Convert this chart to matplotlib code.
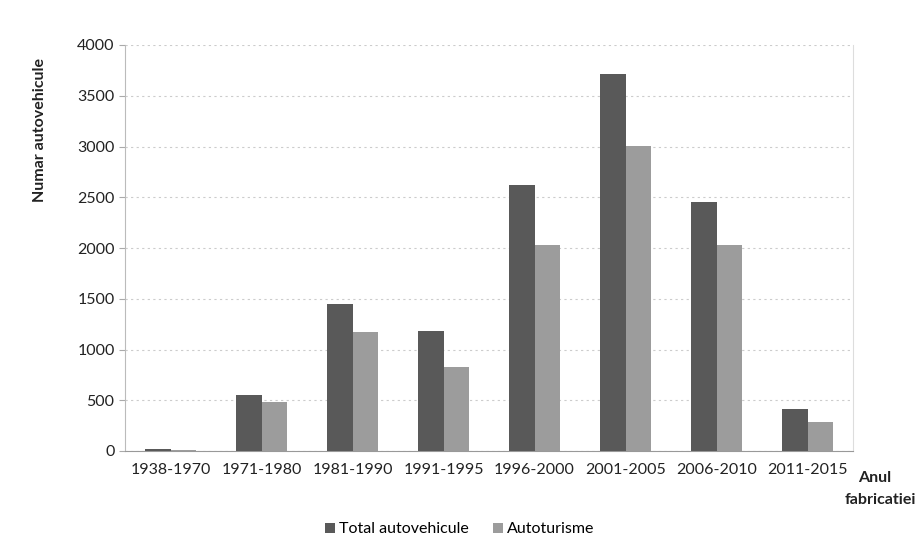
import matplotlib
matplotlib.use("Agg")
import matplotlib.pyplot as plt
import numpy as np

plt.rcParams["font.family"] = ["Lato", "DejaVu Sans"]

categories = ["1938-1970", "1971-1980", "1981-1990", "1991-1995",
              "1996-2000", "2001-2005", "2006-2010", "2011-2015"]
total_autovehicule = [20, 550, 1450, 1185, 2620, 3710, 2450, 410]
autoturisme = [10, 485, 1175, 830, 2030, 3005, 2030, 285]
yticks = [0, 500, 1000, 1500, 2000, 2500, 3000, 3500, 4000]

fig = plt.figure(figsize=(9.17, 5.51), dpi=100)
ax = fig.add_axes([125 / 917, 1 - 451 / 551, 728 / 917, 406 / 551])

x = np.arange(len(categories))
w = 0.285
ax.bar(x - w / 2, total_autovehicule, w, color="#595959", label="Total autovehicule", zorder=3)
ax.bar(x + w / 2, autoturisme, w, color="#9c9c9c", label="Autoturisme", zorder=3)

ax.set_xlim(-0.5, len(categories) - 0.5)
ax.set_ylim(0, 4000)
ax.set_yticks(yticks)
ax.set_xticks(x)
ax.set_xticklabels(categories, fontsize=11.5, color="#222222")
ax.tick_params(axis="y", labelsize=11.5, colors="#222222", length=4, color="#aaaaaa")
ax.tick_params(axis="x", length=0, pad=9)
ax.grid(axis="y", color="#cccccc", linestyle=(0, (2, 3)), linewidth=0.8, zorder=0)
ax.spines["top"].set_visible(False)
ax.spines["right"].set_color("#dddddd")
ax.spines["left"].set_color("#bbbbbb")
ax.spines["bottom"].set_color("#999999")

# y-axis title sits high, next to the upper ticks
fig.text(40 / 917, 1 - 130 / 551, "Numar autovehicule", fontsize=11.5, fontweight="bold",
         color="#222222", rotation=90, ha="center", va="center")
fig.text(858 / 917, 1 - 478 / 551, "Anul", fontsize=11.5,
         fontweight="bold", color="#222222", ha="left", va="center")
fig.text(0.999, 1 - 500 / 551, "fabricatiei", fontsize=11.5,
         fontweight="bold", color="#222222", ha="right", va="center")

ax.legend(loc="upper center", bbox_to_anchor=(0.46, -0.14), ncol=2, frameon=False,
          fontsize=11.5, handlelength=0.6, handleheight=0.6, columnspacing=1.5,
          handletextpad=0.3)

fig.savefig("out.png", dpi=100, facecolor="white")
